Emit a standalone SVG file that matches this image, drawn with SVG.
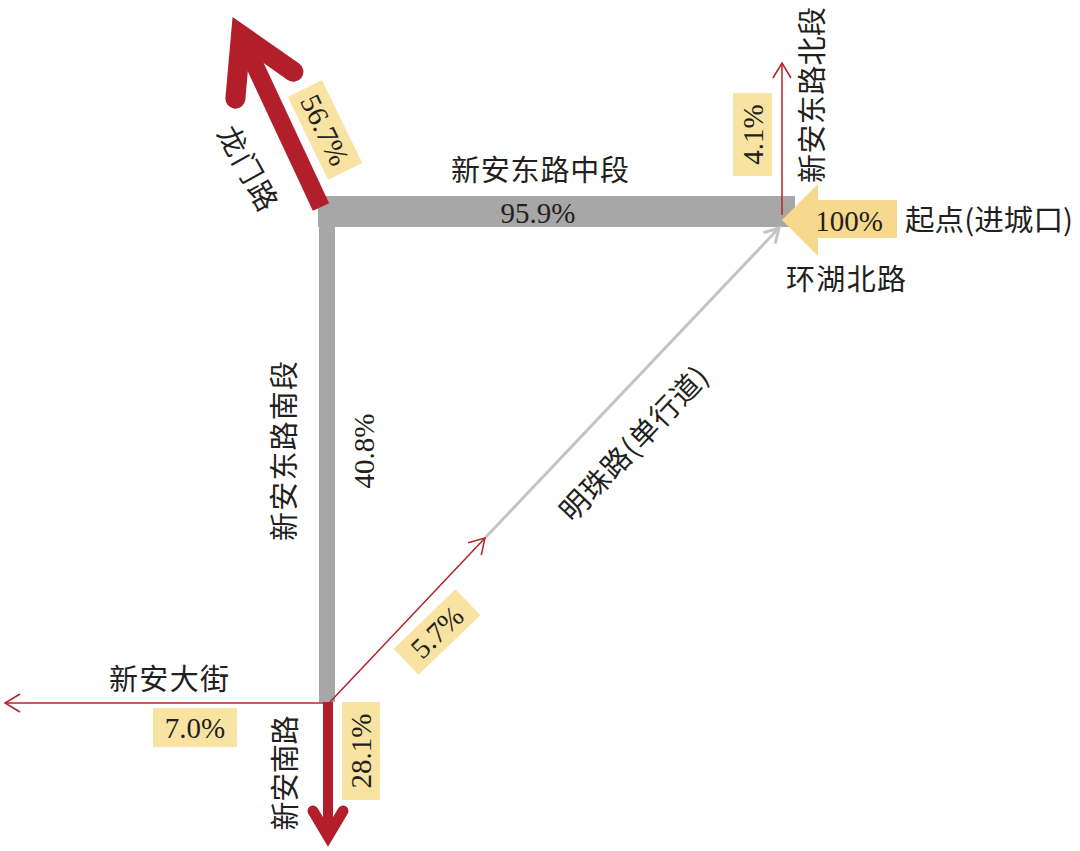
<svg xmlns="http://www.w3.org/2000/svg" width="1080" height="851" viewBox="0 0 1080 851">
<style>
.cjk{font-family:"Noto Sans CJK SC","Noto Sans",sans-serif;font-size:29px;fill:#231f20}
.num{font-family:"Liberation Serif","Times New Roman",serif;font-size:29px;fill:#231f20}
.box{fill:#f8e3a2}
.thin{fill:none;stroke:#b3222c;stroke-width:1.5}
.red{fill:none;stroke:#b31e2b}
</style>
<defs>
<marker id="mr" markerUnits="userSpaceOnUse" markerWidth="30" markerHeight="30" refX="0" refY="0" viewBox="-20 -15 30 30" orient="auto" overflow="visible">
<path d="M-15,-9 L0,0 L-15,9" fill="none" stroke="#b3222c" stroke-width="1.5"/>
</marker>
<marker id="mg" markerUnits="userSpaceOnUse" markerWidth="30" markerHeight="30" refX="0" refY="0" viewBox="-20 -15 30 30" orient="auto" overflow="visible">
<path d="M-14,-8 L0,0 L-14,8" fill="none" stroke="#c4c4c4" stroke-width="3"/>
</marker>
</defs>
<rect width="1080" height="851" fill="#ffffff"/>

<g id="connectors">
<rect id="bar-mid" x="318" y="196" width="477" height="31" fill="#a7a7a7"/>
<rect id="bar-south" x="319" y="196" width="16" height="506" fill="#a7a7a7"/>
<line x1="485" y1="538" x2="779" y2="228" stroke="#c4c4c4" stroke-width="3" marker-end="url(#mg)"/>
<line class="thin" x1="330" y1="702" x2="485" y2="538" marker-end="url(#mr)"/>
<line class="thin" x1="782" y1="215" x2="782" y2="63" marker-end="url(#mr)"/>
<line class="thin" x1="328" y1="703" x2="5" y2="703" marker-end="url(#mr)"/>
<line class="red" x1="321" y1="207" x2="243" y2="40" stroke-width="18"/>
<polyline class="red" points="235.4,98.7 241,35 293.4,71.7" stroke-width="20" stroke-linecap="round" stroke-linejoin="miter" stroke-miterlimit="10"/>
<line class="red" x1="328" y1="702" x2="328" y2="834" stroke-width="10"/>
<polyline class="red" points="313,811 328,836 343,811" stroke-width="11" stroke-linecap="round" stroke-linejoin="miter" stroke-miterlimit="10"/>
</g>

<g id="start">
<polygon points="782,220 818,184 818,200 897,200 897,238 818,238 818,256" fill="#f6d98c"/>
<text class="num" x="849" y="231" text-anchor="middle">100%</text>
<text class="cjk" x="905" y="231" textLength="168" lengthAdjust="spacingAndGlyphs">起点(进城口)</text>
</g>

<g id="huanhu">
<text class="cjk" x="786" y="290" textLength="120">环湖北路</text>
</g>

<g id="xinan-mid">
<text class="cjk" x="451" y="181" textLength="178">新安东路中段</text>
<text class="num" x="538" y="223" text-anchor="middle">95.9%</text>
</g>

<g id="xinan-north">
<rect class="box" x="733" y="93" width="39" height="83"/>
<text class="num" transform="translate(752.5,134.5) rotate(-90)" text-anchor="middle" dominant-baseline="central">4.1%</text>
<text class="cjk" transform="translate(810,95) rotate(-90)" text-anchor="middle" dominant-baseline="central" textLength="176">新安东路北段</text>
</g>

<g id="longmen">
<rect class="box" transform="translate(325,130) rotate(64)" x="-46" y="-19" width="92" height="38"/>
<text class="num" transform="translate(325,130) rotate(64)" text-anchor="middle" dominant-baseline="central">56.7%</text>
<text class="cjk" transform="translate(250,167) rotate(61)" text-anchor="middle" dominant-baseline="central" textLength="92">龙门路</text>
</g>

<g id="xinan-south">
<text class="cjk" transform="translate(282,451) rotate(-90)" text-anchor="middle" dominant-baseline="central" textLength="180">新安东路南段</text>
<text class="num" transform="translate(364,451) rotate(-90)" text-anchor="middle" dominant-baseline="central">40.8%</text>
</g>

<g id="mingzhu">
<text class="cjk" transform="translate(632,442) rotate(-46.5)" text-anchor="middle" dominant-baseline="central" textLength="200">明珠路(单行道)</text>
<rect class="box" transform="translate(437,632) rotate(-44)" x="-43" y="-18" width="86" height="36"/>
<text class="num" transform="translate(437,632) rotate(-44)" text-anchor="middle" dominant-baseline="central">5.7%</text>
</g>

<g id="xinan-dajie">
<text class="cjk" x="109" y="690" textLength="120">新安大街</text>
<rect class="box" x="153" y="708" width="84" height="39"/>
<text class="num" x="195" y="738" text-anchor="middle">7.0%</text>
</g>

<g id="xinan-nanlu">
<text class="cjk" transform="translate(283,773) rotate(-90)" text-anchor="middle" dominant-baseline="central" textLength="115">新安南路</text>
<rect class="box" x="342" y="702" width="38" height="98"/>
<text class="num" transform="translate(361,751) rotate(-90)" text-anchor="middle" dominant-baseline="central">28.1%</text>
</g>
</svg>
